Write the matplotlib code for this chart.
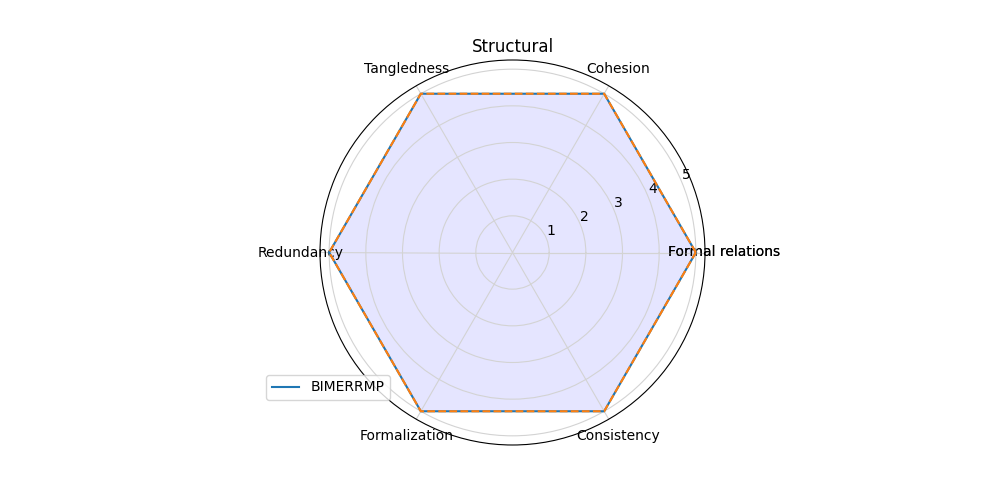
import numpy as np
import matplotlib
matplotlib.use('Agg')
import matplotlib.pyplot as plt

title = 'Structural'
categories = ['Formal relations', 'Cohesion', 'Tangledness', 'Redundancy',
              'Formalization', 'Consistency']
bimerrmp = [5, 5, 5, 5, 5, 5]
reference = [5, 5, 5, 5, 5, 5]

n = len(categories)
angles = np.linspace(0, 2 * np.pi, n, endpoint=False).tolist()
angles += angles[:1]
vals = bimerrmp + bimerrmp[:1]
ref = reference + reference[:1]

fig = plt.figure(figsize=(10, 5), dpi=100)
ax = fig.add_subplot(111, polar=True)

ax.plot(angles, vals, color='C0', linewidth=1.5, label='BIMERRMP')
ax.fill(angles, vals, color='b', alpha=0.1)
ax.plot(angles, ref, color='C1', linestyle='--', linewidth=1.5)

ax.set_thetagrids(np.degrees(angles), categories + categories[:1])
ax.set_ylim(0, 5.25)
ax.set_yticks([1, 2, 3, 4, 5])
ax.grid(color='#d3d3d3', linewidth=0.8)
ax.set_title(title)
ax.legend(loc='lower left', bbox_to_anchor=(-0.158, 0.099))

fig.savefig('out.png')
